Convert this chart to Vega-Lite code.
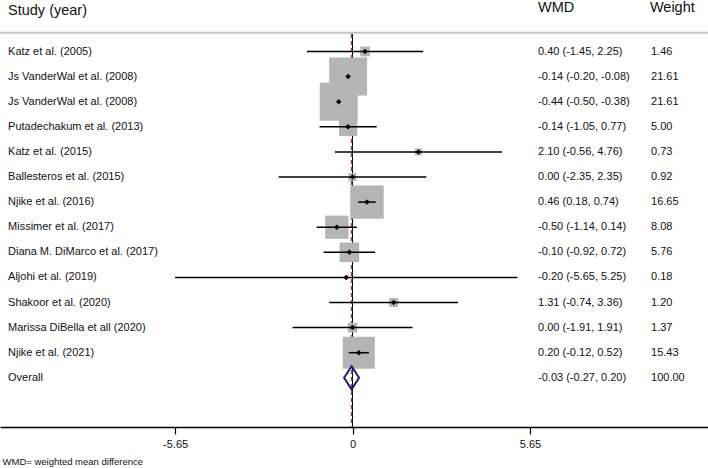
{
  "$schema": "https://vega.github.io/schema/vega-lite/v6.json",
  "width": 708,
  "height": 427,
  "padding": {"left": 0, "top": 0, "right": 0, "bottom": 41},
  "autosize": {"type": "none"},
  "background": "white",
  "config": {"view": {"stroke": null}, "font": "Liberation Sans"},
  "datasets": {
    "studies": [
      {"row": 1, "study": "Katz et al. (2005)", "est": 0.40, "lo": -1.45, "hi": 2.25, "wmd": "0.40 (-1.45, 2.25)", "weight": 1.46},
      {"row": 2, "study": "Js VanderWal et al. (2008)", "est": -0.14, "lo": -0.20, "hi": -0.08, "wmd": "-0.14 (-0.20, -0.08)", "weight": 21.61},
      {"row": 3, "study": "Js VanderWal et al. (2008)", "est": -0.44, "lo": -0.50, "hi": -0.38, "wmd": "-0.44 (-0.50, -0.38)", "weight": 21.61},
      {"row": 4, "study": "Putadechakum et al. (2013)", "est": -0.14, "lo": -1.05, "hi": 0.77, "wmd": "-0.14 (-1.05, 0.77)", "weight": 5.00},
      {"row": 5, "study": "Katz et al. (2015)", "est": 2.10, "lo": -0.56, "hi": 4.76, "wmd": "2.10 (-0.56, 4.76)", "weight": 0.73},
      {"row": 6, "study": "Ballesteros et al. (2015)", "est": 0.00, "lo": -2.35, "hi": 2.35, "wmd": "0.00 (-2.35, 2.35)", "weight": 0.92},
      {"row": 7, "study": "Njike et al. (2016)", "est": 0.46, "lo": 0.18, "hi": 0.74, "wmd": "0.46 (0.18, 0.74)", "weight": 16.65},
      {"row": 8, "study": "Missimer et al. (2017)", "est": -0.50, "lo": -1.14, "hi": 0.14, "wmd": "-0.50 (-1.14, 0.14)", "weight": 8.08},
      {"row": 9, "study": "Diana M. DiMarco et al. (2017)", "est": -0.10, "lo": -0.92, "hi": 0.72, "wmd": "-0.10 (-0.92, 0.72)", "weight": 5.76},
      {"row": 10, "study": "Aljohi et al. (2019)", "est": -0.20, "lo": -5.65, "hi": 5.25, "wmd": "-0.20 (-5.65, 5.25)", "weight": 0.18},
      {"row": 11, "study": "Shakoor et al. (2020)", "est": 1.31, "lo": -0.74, "hi": 3.36, "wmd": "1.31 (-0.74, 3.36)", "weight": 1.20},
      {"row": 12, "study": "Marissa DiBella et all (2020)", "est": 0.00, "lo": -1.91, "hi": 1.91, "wmd": "0.00 (-1.91, 1.91)", "weight": 1.37},
      {"row": 13, "study": "Njike et al. (2021)", "est": 0.20, "lo": -0.12, "hi": 0.52, "wmd": "0.20 (-0.12, 0.52)", "weight": 15.43},
      {"row": 14, "study": "Overall", "est": -0.03, "lo": -0.27, "hi": 0.20, "wmd": "-0.03 (-0.27, 0.20)", "weight": 100.00}
    ]
  },
  "data": {"name": "studies"},
  "layer": [
    {
      "data": {"values": [{"ref": 0}]},
      "mark": {"type": "rule", "color": "#000000", "strokeWidth": 1},
      "encoding": {
        "x": {
          "field": "ref", "type": "quantitative",
          "scale": {"domain": [-11.226, 11.32], "nice": false, "zero": false},
          "axis": {
            "values": [-5.65, 0, 5.65],
            "labelExpr": "datum.value < 0 ? '-' + format(-datum.value, '.2f') : (datum.value == 0 ? '0' : format(datum.value, '.2f'))",
            "grid": false,
            "domainColor": "#000000",
            "domainWidth": 1.5,
            "tickColor": "#000000",
            "tickWidth": 1.2,
            "tickSize": 7,
            "labelFontSize": 11,
            "labelColor": "#111111",
            "labelPadding": 4,
            "title": "WMD= weighted mean difference",
            "titleFontSize": 9.5,
            "titleFontWeight": "normal",
            "titleColor": "#111111",
            "titleAnchor": "start",
            "titleAlign": "left",
            "titleBaseline": "middle",
            "titleX": 2,
            "titleY": 34
          }
        },
        "y": {"datum": 0.3, "type": "quantitative", "scale": {"domain": [-1.052, 15.96], "reverse": true, "nice": false, "zero": false}, "axis": null},
        "y2": {"datum": 15.96}
      }
    },
    {
      "transform": [{"filter": "datum.row == 14"}],
      "mark": {"type": "rule", "color": "#9e3a3a", "strokeWidth": 1.5, "strokeDash": [4, 3]},
      "encoding": {
        "x": {"field": "est", "type": "quantitative"},
        "y": {"datum": 0.3, "type": "quantitative", "axis": null},
        "y2": {"datum": 15.96}
      }
    },
    {
      "data": {"values": [{"sep": 0.251}]},
      "mark": {"type": "rule", "color": "#c4c4c4", "strokeWidth": 2},
      "encoding": {
        "y": {"field": "sep", "type": "quantitative", "axis": null}
      }
    },
    {
      "transform": [{"filter": "datum.row < 14"}],
      "mark": {"type": "square", "filled": true, "color": "#b5b5b5", "opacity": 1},
      "encoding": {
        "x": {"field": "est", "type": "quantitative"},
        "y": {"field": "row", "type": "quantitative", "axis": null},
        "size": {"field": "weight", "type": "quantitative", "scale": {"type": "linear", "domain": [0, 21.61], "range": [0, 1444]}, "legend": null}
      }
    },
    {
      "transform": [{"filter": "datum.row < 14"}],
      "mark": {"type": "rule", "color": "#000000", "strokeWidth": 1.5},
      "encoding": {
        "x": {"field": "lo", "type": "quantitative"},
        "x2": {"field": "hi"},
        "y": {"field": "row", "type": "quantitative", "axis": null}
      }
    },
    {
      "transform": [{"filter": "datum.row < 14"}],
      "mark": {"type": "point", "shape": "diamond", "filled": true, "color": "#000000", "size": 30, "opacity": 1},
      "encoding": {
        "x": {"field": "est", "type": "quantitative"},
        "y": {"field": "row", "type": "quantitative", "axis": null}
      }
    },
    {
      "transform": [{"filter": "datum.row == 14"}],
      "mark": {"type": "point", "shape": "M-0.65,0L0,-1L0.65,0L0,1Z", "filled": false, "stroke": "#1c1c7a", "strokeWidth": 2, "size": 529, "opacity": 1},
      "encoding": {
        "x": {"field": "est", "type": "quantitative"},
        "y": {"field": "row", "type": "quantitative", "axis": null}
      }
    },
    {
      "mark": {"type": "text", "align": "left", "baseline": "middle", "fontSize": 11, "color": "#111111"},
      "encoding": {
        "x": {"datum": -10.97, "type": "quantitative"},
        "y": {"field": "row", "type": "quantitative", "axis": null},
        "text": {"field": "study"}
      }
    },
    {
      "mark": {"type": "text", "align": "left", "baseline": "middle", "fontSize": 11, "color": "#111111"},
      "encoding": {
        "x": {"datum": 5.908, "type": "quantitative"},
        "y": {"field": "row", "type": "quantitative", "axis": null},
        "text": {"field": "wmd"}
      }
    },
    {
      "mark": {"type": "text", "align": "left", "baseline": "middle", "fontSize": 11, "color": "#111111"},
      "encoding": {
        "x": {"datum": 9.506, "type": "quantitative"},
        "y": {"field": "row", "type": "quantitative", "axis": null},
        "text": {"field": "weight", "type": "quantitative", "format": ".2f"}
      }
    },
    {
      "data": {"values": [{"h": "Study (year)"}]},
      "mark": {"type": "text", "align": "left", "baseline": "middle", "fontSize": 14.5, "color": "#111111"},
      "encoding": {
        "x": {"datum": -10.97, "type": "quantitative"},
        "y": {"datum": -0.594, "type": "quantitative", "axis": null},
        "text": {"field": "h"}
      }
    },
    {
      "data": {"values": [{"h": "WMD"}]},
      "mark": {"type": "text", "align": "left", "baseline": "middle", "fontSize": 14.5, "color": "#111111"},
      "encoding": {
        "x": {"datum": 5.908, "type": "quantitative"},
        "y": {"datum": -0.745, "type": "quantitative", "axis": null},
        "text": {"field": "h"}
      }
    },
    {
      "data": {"values": [{"h": "Weight"}]},
      "mark": {"type": "text", "align": "left", "baseline": "middle", "fontSize": 14.5, "color": "#111111"},
      "encoding": {
        "x": {"datum": 9.47, "type": "quantitative"},
        "y": {"datum": -0.745, "type": "quantitative", "axis": null},
        "text": {"field": "h"}
      }
    }
  ]
}
